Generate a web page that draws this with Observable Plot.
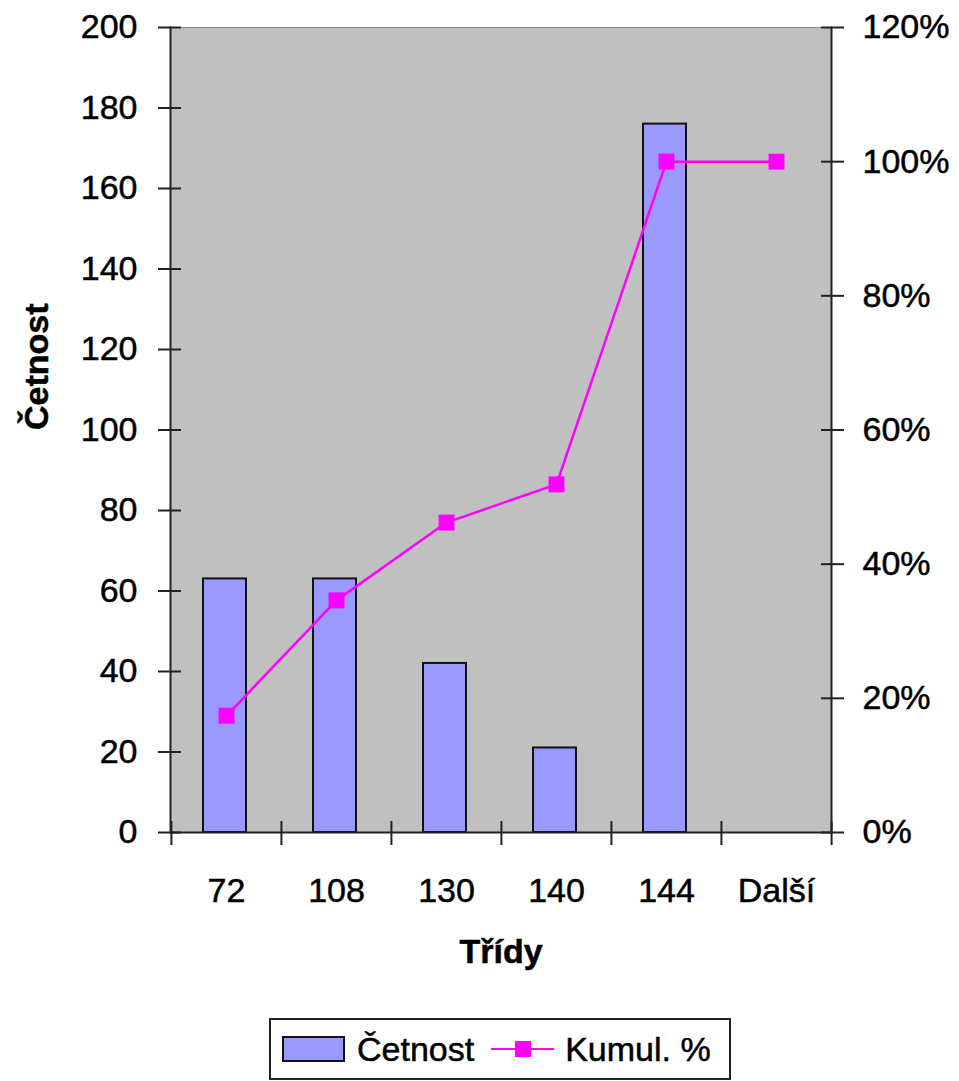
<!DOCTYPE html>
<html>
<head>
<meta charset="utf-8">
<script src="https://cdn.jsdelivr.net/npm/d3@7"></script>
<script src="https://cdn.jsdelivr.net/npm/@observablehq/plot@0.6"></script>
<style>
  body { margin: 0; background: #fff; font-family: "Liberation Sans", Arial, sans-serif; }
  #wrap { position: relative; width: 959px; height: 1081px; }
  #chart svg text { stroke: #000; stroke-width: 0.5px; }
  #legend { position: absolute; left: 269px; top: 1018px; width: 462px; height: 62px; box-sizing: border-box;
    border: 2px solid #222; display: flex; align-items: center; font-size: 34px; color: #000;
    -webkit-text-stroke: 0.5px #000; }
  .sw { display: inline-block; width: 59px; height: 22px; background: #9999ff; border: 2px solid #111; margin-left: 11px; margin-right: 12px; }
  .ln { position: relative; display: inline-block; width: 63px; height: 24px; margin-left: 17px; margin-right: 11px; }
  .ln::before { content: ""; position: absolute; left: 0; right: 0; top: 11px; height: 2px; background: #ff00ff; }
  .ln::after { content: ""; position: absolute; left: 24px; top: 4px; width: 16px; height: 16px; background: #ff00ff; }
</style>
</head>
<body>
<div id="wrap">
  <div id="chart"></div>
  <div id="legend"><span class="sw"></span><span>Četnost</span><span class="ln"></span><span>Kumul. %</span></div>
</div>
<script>
const categories = ["72", "108", "130", "140", "144", "Další"];
const counts = [63, 63, 42, 21, 176, 0];
const cumulPct = [17.4, 34.6, 46.2, 51.9, 100, 100];
const leftTicks = [0, 20, 40, 60, 80, 100, 120, 140, 160, 180, 200];
const rightTicks = [0, 20, 40, 60, 80, 100, 120];

const yMax = 200, pctMax = 120;
const toY = p => p * yMax / pctMax;
const data = categories.map((c, i) => ({cat: c, count: counts[i], cum: cumulPct[i]}));

const W = 959, H = 1000, mL = 170, mR = 128, mT = 27, mB = 168;
const innerH = H - mT - mB;
const step = (W - mL - mR) / categories.length;
const axisColor = "#222";
const font = "Liberation Sans, Arial, sans-serif";

const chart = Plot.plot({
  width: W, height: H,
  marginLeft: mL, marginRight: mR, marginTop: mT, marginBottom: mB,
  style: {fontFamily: font, fontSize: "34px", color: "#000", background: "#fff"},
  x: {type: "band", domain: categories, padding: 0},
  y: {domain: [0, yMax]},
  marks: [
    Plot.frame({fill: "#c0c0c0", stroke: "#8a8a8a", strokeWidth: 1}),
    Plot.barY(data, {x: "cat", y: "count", fill: "#9999ff", stroke: "#111", strokeWidth: 2, insetLeft: 32, insetRight: 35}),
    // axis lines
    Plot.ruleY([0], {stroke: axisColor, strokeWidth: 2}),
    Plot.frame({anchor: "left", stroke: axisColor, strokeWidth: 2}),
    Plot.frame({anchor: "right", stroke: axisColor, strokeWidth: 2}),
    // left axis ticks crossing the line
    Plot.axisY({anchor: "left", ticks: leftTicks, tickSize: 23, dx: 11, tickFormat: () => "", stroke: axisColor, strokeWidth: 2, label: null}),
    Plot.axisY({anchor: "left", ticks: leftTicks, tickSize: 0, tickPadding: 33, fontSize: 34, label: null}),
    // right axis (percent)
    Plot.axisY({anchor: "right", ticks: rightTicks.map(toY), tickSize: 23, dx: -11, tickFormat: () => "", stroke: axisColor, strokeWidth: 2, label: null}),
    Plot.axisY({anchor: "right", ticks: rightTicks.map(toY), tickSize: 0, tickPadding: 31, tickFormat: v => Math.round(v * pctMax / yMax) + "%", fontSize: 34, label: null}),
    // x axis: ticks at band boundaries
    Plot.ruleX(categories, {x: d => d, dx: -step / 2, insetTop: innerH - 11, insetBottom: -13, stroke: axisColor, strokeWidth: 2}),
    Plot.ruleX([categories[categories.length - 1]], {x: d => d, dx: step / 2, insetTop: innerH - 11, insetBottom: -13, stroke: axisColor, strokeWidth: 2}),
    Plot.axisX({tickSize: 0, tickPadding: 45, fontSize: 34, label: null}),
    // cumulative line
    Plot.line(data, {x: "cat", y: d => toY(d.cum), stroke: "#ff00ff", strokeWidth: 2.5}),
    Plot.dot(data, {x: "cat", y: d => toY(d.cum), symbol: "square", r: 9, fill: "#ff00ff", stroke: null}),
    // axis titles
    Plot.text(["Četnost"], {frameAnchor: "left", dx: -133, rotate: -90, fontWeight: "bold", fontSize: 34}),
    Plot.text(["Třídy"], {frameAnchor: "bottom", dy: 130, fontWeight: "bold", fontSize: 34})
  ]
});
document.getElementById("chart").appendChild(chart);
</script>
</body>
</html>
